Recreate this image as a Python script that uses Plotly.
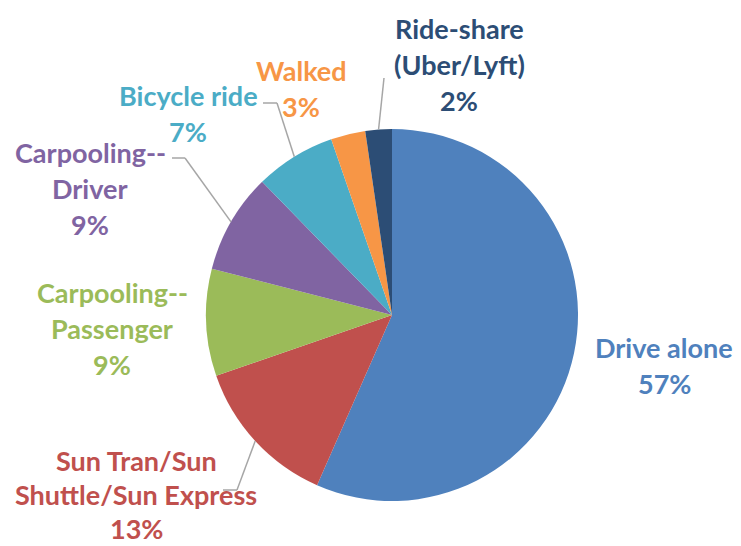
import math
import plotly.graph_objects as go

categories = ["Drive alone", "Sun Tran/Sun Shuttle/Sun Express", "Carpooling--Passenger",
              "Carpooling--Driver", "Bicycle ride", "Walked", "Ride-share (Uber/Lyft)"]
values = [56.6, 13.1, 9.3, 8.7, 7.0, 3.0, 2.3]
label_lines = [["Drive alone"], ["Sun Tran/Sun", "Shuttle/Sun Express"], ["Carpooling--", "Passenger"],
               ["Carpooling--", "Driver"], ["Bicycle ride"], ["Walked"], ["Ride-share", "(Uber/Lyft)"]]
colors = ["#4F81BD", "#C0504D", "#9BBB59", "#8064A2", "#4BACC6", "#F79646", "#2C4D75"]

VW, VH = 741, 546          # browser viewport
OFF = 8                    # default page body margin
W, H = VW - OFF, VH - OFF  # figure size so it fits the viewport
CX, CY, R = 392, 315, 186  # pie centre / radius in viewport pixels
FONT = "Lato"
FS = 27

# label layout (viewport px): (center x, first-line center y, line spacing)
label_pos = [(664, 347, 36), (136, 460, 34), (112, 292, 36), (90, 152, 36),
             (188, 95, 36), (301, 70, 36), (459, 28, 36)]
# leader lines: elbow/end points (None = no leader)
leaders = [None, [(237, 490), (223, 490)], None, [(185, 158), (172, 158)],
           [(277, 103), (263, 103)], None, [(384, 78)]]

fig = go.Figure()
fig.add_trace(go.Pie(
    labels=categories, values=values, sort=False, direction="clockwise", rotation=0,
    marker=dict(colors=colors, line=dict(width=0)), textinfo="none", hoverinfo="label+percent",
    showlegend=False,
    domain=dict(x=[(CX - OFF - R) / W, (CX - OFF + R) / W],
                y=[(VH - CY - R) / H, (VH - CY + R) / H]),
))

total = sum(values)
annotations = []
shapes = []
cum = 0.0
for i, (cat, v) in enumerate(zip(categories, values)):
    mid = (cum + v / 2) / total * 2 * math.pi
    cum += v
    lx, ly, lh = label_pos[i]
    lines = label_lines[i] + [f"{round(v / total * 100)}%"]
    for j, t in enumerate(lines):
        annotations.append(dict(x=lx, y=ly + j * lh, xref="x", yref="y", text=t, showarrow=False,
                                xanchor="center", yanchor="middle", borderpad=0,
                                font=dict(family=FONT, size=FS, color=colors[i], weight="bold")))
    if leaders[i]:
        sx = CX + R * math.sin(mid)
        sy = CY - R * math.cos(mid)
        pts = [(sx, sy)] + leaders[i]
        for (x0, y0), (x1, y1) in zip(pts[:-1], pts[1:]):
            shapes.append(dict(type="line", x0=x0, y0=y0, x1=x1, y1=y1, xref="x", yref="y",
                               line=dict(color="#A6A6A6", width=1.5)))

fig.update_layout(
    width=W, height=H, margin=dict(l=0, r=0, t=0, b=0),
    paper_bgcolor="white", plot_bgcolor="rgba(0,0,0,0)",
    xaxis=dict(range=[OFF, VW], visible=False, fixedrange=True),
    yaxis=dict(range=[VH, OFF], visible=False, fixedrange=True),
    annotations=annotations, shapes=shapes,
)
fig.write_html("out.html")
